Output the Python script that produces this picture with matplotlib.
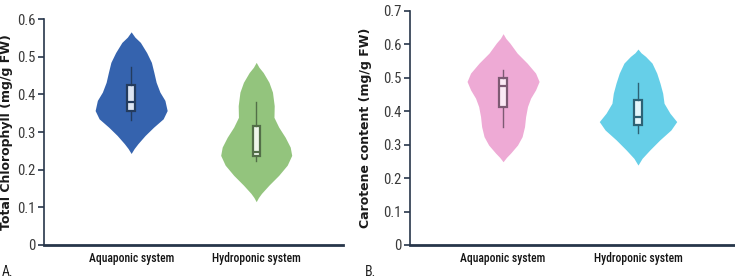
import numpy as np
import matplotlib.pyplot as plt

# categories
groups = ["Aquaponic system", "Hydroponic system"]

# violin outlines: value levels and half widths (category units)
chl_aqua_y = [0.566, 0.552, 0.538, 0.511, 0.485, 0.458, 0.432, 0.406, 0.384, 0.357, 0.335, 0.313, 0.291, 0.269, 0.256, 0.243]
chl_aqua_w = [0.0, 0.030, 0.074, 0.124, 0.162, 0.182, 0.200, 0.230, 0.270, 0.288, 0.256, 0.180, 0.112, 0.054, 0.024, 0.0]
chl_hydro_y = [0.485, 0.472, 0.458, 0.432, 0.406, 0.370, 0.339, 0.313, 0.286, 0.260, 0.238, 0.212, 0.185, 0.159, 0.137, 0.126, 0.115]
chl_hydro_w = [0.0, 0.022, 0.056, 0.102, 0.130, 0.144, 0.142, 0.180, 0.232, 0.272, 0.284, 0.248, 0.180, 0.102, 0.042, 0.018, 0.0]

car_aqua_y = [0.632, 0.618, 0.604, 0.574, 0.544, 0.514, 0.489, 0.464, 0.439, 0.414, 0.384, 0.354, 0.324, 0.299, 0.275, 0.262, 0.249]
car_aqua_w = [0.0, 0.020, 0.050, 0.104, 0.178, 0.241, 0.267, 0.241, 0.204, 0.181, 0.167, 0.159, 0.141, 0.107, 0.056, 0.025, 0.0]
car_hydro_y = [0.586, 0.575, 0.564, 0.544, 0.514, 0.484, 0.454, 0.424, 0.394, 0.369, 0.344, 0.314, 0.284, 0.259, 0.239]
car_hydro_w = [0.0, 0.022, 0.056, 0.104, 0.139, 0.163, 0.183, 0.193, 0.237, 0.287, 0.244, 0.161, 0.087, 0.030, 0.0]

# box summaries: whisker low, q1, median, q3, whisker high
chl_aqua_box = [0.331, 0.357, 0.381, 0.425, 0.472]
chl_hydro_box = [0.222, 0.236, 0.247, 0.316, 0.379]
car_aqua_box = [0.354, 0.414, 0.474, 0.499, 0.524]
car_hydro_box = [0.334, 0.359, 0.384, 0.434, 0.484]

spine_col = "#27364a"
cond = ["Roboto Condensed", "DejaVu Sans"]


def box_stats(v):
    return dict(whislo=v[0], q1=v[1], med=v[2], q3=v[3], whishi=v[4], fliers=[])


def violin(ax, pos, ys, ws, fill, edge, boxfill, box, bw):
    ys = np.array(ys)
    ws = np.array(ws)
    ax.fill_betweenx(ys, pos - ws, pos + ws, color=fill, lw=0, zorder=2)
    ax.bxp([box_stats(box)], positions=[pos], widths=bw, patch_artist=True,
           showfliers=False, showcaps=False, manage_ticks=False,
           boxprops=dict(facecolor=boxfill, edgecolor=edge, linewidth=1.6),
           medianprops=dict(color=edge, linewidth=1.6),
           whiskerprops=dict(color=edge, linewidth=1.0), zorder=3)


def style(ax, ymax, xlim, ylabel, labx):
    ax.set_ylim(0, ymax)
    ax.set_xlim(*xlim)
    ax.set_yticks(np.arange(0, ymax + 0.001, 0.1))
    ax.set_yticklabels(["0"] + ["%.1f" % t for t in np.arange(0.1, ymax + 0.001, 0.1)],
                       family=cond, fontsize=10.5, color="#3a3a3a")
    ax.set_xticks([0, 1])
    ax.set_xticklabels(groups, family=cond, fontsize=8.4, fontweight="medium", color="#151515")
    ax.tick_params(axis="x", length=0, pad=5)
    ax.tick_params(axis="y", length=4, width=1.2, color=spine_col, pad=2)
    for s in ["top", "right"]:
        ax.spines[s].set_visible(False)
    ax.spines["left"].set_color(spine_col)
    ax.spines["left"].set_linewidth(1.2)
    ax.spines["bottom"].set_color(spine_col)
    ax.spines["bottom"].set_linewidth(2.0)
    ax.set_ylabel(ylabel, family="DejaVu Sans", fontweight="bold", fontsize=9, color="#1a1a1a")
    ax.yaxis.set_label_coords(labx, 0.5)


fig = plt.figure(figsize=(7.35, 2.8), dpi=100)
ax1 = fig.add_axes([0.060, 0.125, 0.407, 0.807])
ax2 = fig.add_axes([0.558, 0.125, 0.442, 0.836])

violin(ax1, 0, chl_aqua_y, chl_aqua_w, "#3563ae", "#243c5e", "#dce5f3", chl_aqua_box, 0.066)
violin(ax1, 1, chl_hydro_y, chl_hydro_w, "#93c47d", "#536e48", "#eef6ea", chl_hydro_box, 0.058)
violin(ax2, 0, car_aqua_y, car_aqua_w, "#eeaad5", "#7d5a73", "#fbeaf5", car_aqua_box, 0.065)
violin(ax2, 1, car_hydro_y, car_hydro_w, "#66cfe8", "#2d6275", "#e4f6fb", car_hydro_box, 0.062)

style(ax1, 0.6, (-0.696, 1.696), "Total Chlorophyll (mg/g FW)", -0.105)
style(ax2, 0.7, (-0.689, 1.719), "Carotene content (mg/g FW)", -0.118)

fig.text(0.003, 0.015, "A.", family=cond, fontsize=10, color="#222222")
fig.text(0.497, 0.015, "B.", family=cond, fontsize=10, color="#222222")

fig.savefig("out.png", dpi=100, facecolor="white")
